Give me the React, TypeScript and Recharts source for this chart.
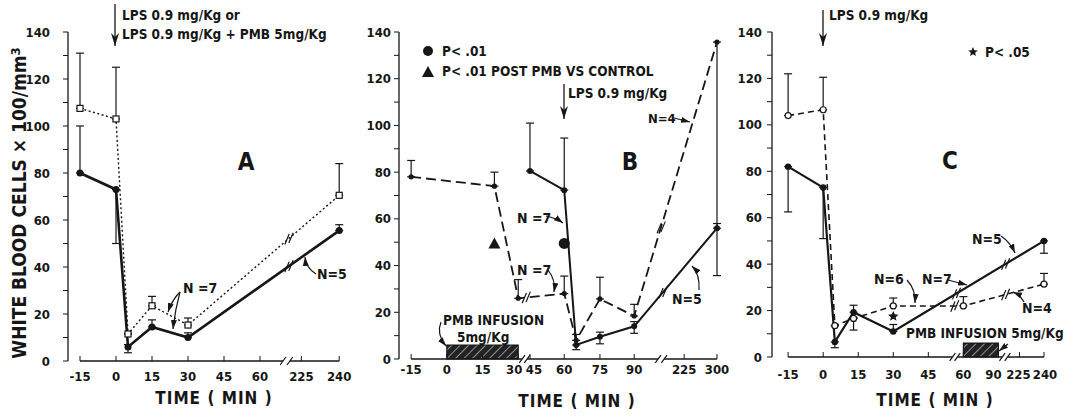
import React from 'react';
import { LineChart, Line, XAxis, YAxis, ErrorBar, ReferenceLine, ReferenceArea, ReferenceDot } from 'recharts';

const FONT = "'Liberation Sans Narrow', 'DejaVu Sans Condensed', 'Arial Narrow', sans-serif";
const INK = '#161616';

// y axis shared by all three panels
const yTicks = [0, 10, 20, 30, 40, 50, 60, 70, 80, 90, 100, 110, 120, 130, 140];

// ---- panel A : LPS vs LPS + PMB ----
const aTickTimes = [-15, 0, 15, 30, 45, 60, 225, 240];
const aTickPos = [0, 1, 2, 3, 4, 5, 6.15, 7.2];
const aTimes = [-15, 0, 5, 15, 30, 240];
const aLpsPmb = [107.5, 103, 11.5, 23.5, 15.3, 70.5];
const aLpsPmbErr = [[0, 23.5], [0, 22], [0, 0], [0, 4], [0, 3], [0, 13.5]];
const aLps = [80, 73, 6, 14.5, 10, 55.5];
const aLpsErr = [[0, 20], [23, 0], [2.5, 1], [0, 3], [0, 2], [0, 2.5]];

// ---- panel B : PMB infusion before LPS ----
const bTickTimes = [-15, 0, 15, 30, 45, 60, 75, 90, 225, 300];
const bTickPos = [0, 1, 2, 3, 3.33, 4.29, 5.29, 6.25, 7.65, 8.57];
const bPmbTimes = [-15, 20, 30, 60, 65, 75, 90, 300];
const bPmb = [78, 74, 26, 28, 8, 25.7, 18.4, 135.7];
const bPmbErr = [[0, 7], [0, 6], [0, 8], [0, 7.5], [0, 2.5], [0, 9.3], [0, 5], [100, 0]];
const bCtlTimes = [45, 60, 65, 75, 90, 300];
const bCtl = [80.5, 72.3, 6, 9.5, 14, 56];
const bCtlErr = [[0, 20.5], [0, 22.3], [2, 0], [3, 2], [3, 2], [0, 2]];
const bMarkTimes = [20, 60];
const bMarkValues = [49.5, 49.5];
const bInfusion = [0, 30];

// ---- panel C : PMB infusion after LPS ----
const cTickTimes = [-15, 0, 15, 30, 45, 60, 90, 225, 240];
const cTickPos = [0, 1, 2, 3, 4, 5, 6, 6.6, 7.3];
const cOpenTimes = [-15, 0, 5, 13, 30, 60, 240];
const cOpen = [104, 106.5, 13.5, 16.6, 22, 22, 31.4];
const cOpenErr = [[0, 18], [0, 14], [0, 0], [5, 0], [0, 3.4], [0, 4], [0, 4.6]];
const cSolidTimes = [-15, 0, 5, 13, 30, 240];
const cSolid = [82, 73, 6.5, 19.3, 11, 50];
const cSolidErr = [[19.5, 0], [22, 0], [2.5, 0], [0, 3], [0, 3], [5.3, 0]];
const cStarTime = 30;
const cStarValue = 17.5;
const cInfusion = [60, 90];

// time (min) -> position on the broken axis
function makeToPos(times: number[], pos: number[]) {
  return (t: number) => {
    for (let i = 0; i < times.length - 1; i++) {
      if (t <= times[i + 1]) {
        const f = (t - times[i]) / (times[i + 1] - times[i]);
        return pos[i] + f * (pos[i + 1] - pos[i]);
      }
    }
    return pos[pos.length - 1];
  };
}

type Row = { x: number; y: number; e: number[] };
function rows(times: number[], values: number[], errs: number[][], toPos: (t: number) => number): Row[] {
  return times.map((t, i) => ({ x: toPos(t), y: values[i], e: errs[i] }));
}

const yFmt = (v: number) => (v % 20 === 0 ? String(v) : '');

const tickStyle = { fill: INK, fontSize: 13, fontFamily: FONT, fontWeight: 'bold' };

// x tick labels, with a small nudge where the printed labels crowd together
const xTick = (pos: number[], times: number[], nudge: Record<number, number> = {}) => (p: any) => {
  const i = pos.findIndex((q) => Math.abs(q - p.payload.value) < 0.001);
  if (i < 0) return <g key={`t${p.index}`} />;
  return (
    <text key={`t${p.index}`} x={p.x + (nudge[times[i]] || 0)} y={p.y} dy="0.71em" textAnchor="middle" {...tickStyle}>
      {times[i]}
    </text>
  );
};

const filledDot = (r: number) => (p: any) => (
  <circle key={`f${p.index}`} cx={p.cx} cy={p.cy} r={r} fill={INK} />
);
const openCircle = (p: any) => (
  <circle key={`o${p.index}`} cx={p.cx} cy={p.cy} r={3} fill="#fff" stroke={INK} strokeWidth={1.2} />
);
const openSquare = (p: any) => (
  <rect key={`s${p.index}`} x={p.cx - 3} y={p.cy - 3} width={6} height={6} fill="#fff" stroke={INK} strokeWidth={1.2} />
);

const slash = (k: string, x: number, y: number, dx: number, dy: number) => (
  <ReferenceLine key={k} segment={[{ x: x - dx, y: y - dy }, { x: x + dx, y: y + dy }]} stroke={INK} strokeWidth={1.2} ifOverflow="visible" />
);

// broken x axis line, drawn as segments in data space
function axisLine(segs: number[][]) {
  const out: any[] = [];
  segs.forEach((s, i) => {
    out.push(
      <ReferenceLine key={`ax${i}`} segment={[{ x: s[0], y: 0 }, { x: s[1], y: 0 }]} stroke={INK} strokeWidth={1.3} ifOverflow="visible" />
    );
    if (i > 0) {
      out.push(slash(`br${i}a`, segs[i - 1][1], 0, 0.08, 1.7));
      out.push(slash(`br${i}b`, s[0], 0, 0.08, 1.7));
    }
  });
  return out;
}

// "//" break marks drawn across a series line at axis position p
function lineBreak(data: Row[], p: number, k: string) {
  let y = data[data.length - 1].y;
  for (let i = 0; i < data.length - 1; i++) {
    if (p >= data[i].x && p <= data[i + 1].x) {
      y = data[i].y + ((p - data[i].x) / (data[i + 1].x - data[i].x)) * (data[i + 1].y - data[i].y);
    }
  }
  return [slash(`${k}a`, p - 0.05, y - 0.3, 0.06, 2.2), slash(`${k}b`, p + 0.06, y + 0.3, 0.06, 2.2)];
}

const T = (x: number, y: number, s: string, size = 13.5, anchor: any = 'start', extra: any = {}) => (
  <text key={`${s}${x}${y}`} x={x} y={y} fontSize={size} fontFamily={FONT} fontWeight="bold" fill={INK} textAnchor={anchor} {...extra}>
    {s}
  </text>
);

const defs = (id: string) => (
  <defs>
    <marker id={`ah${id}`} markerWidth="10" markerHeight="8" refX="9" refY="4" orient="auto" markerUnits="userSpaceOnUse">
      <path d="M0,1 L9,4 L0,7 Z" fill={INK} />
    </marker>
    <marker id={`lh${id}`} markerWidth="8" markerHeight="14" refX="4" refY="13" orient="0" markerUnits="userSpaceOnUse">
      <path d="M0,0 L4,13 L8,0 L4,4 Z" fill={INK} />
    </marker>
    <pattern id={`hatch${id}`} width="6" height="6" patternUnits="userSpaceOnUse" patternTransform="rotate(45)">
      <rect width="6" height="6" fill="#222" />
      <line x1="0" y1="0" x2="0" y2="6" stroke="#ddd" strokeWidth="1.2" />
    </pattern>
  </defs>
);

const arrow = (id: string, d: string, k: string, w = 1.2) => (
  <path key={k} d={d} fill="none" stroke={INK} strokeWidth={w} markerEnd={`url(#ah${id})`} />
);
const lpsArrow = (id: string, x: number, y1: number, y2: number) => (
  <line key={`lps${x}`} x1={x} y1={y1} x2={x} y2={y2 - 12} stroke={INK} strokeWidth={1.3} markerEnd={`url(#lh${id})`} />
);

function PanelA() {
  const toPos = makeToPos(aTickTimes, aTickPos);
  const pmbRows = rows(aTimes, aLpsPmb, aLpsPmbErr, toPos);
  const lpsRows = rows(aTimes, aLps, aLpsErr, toPos);
  return (
    <LineChart width={360} height={418} margin={{ top: 32, right: 10, bottom: 27, left: 28 }}>
      {defs('A')}
      <XAxis type="number" dataKey="x" domain={[-1 / 3, 7.5]} ticks={aTickPos} interval={0} tick={xTick(aTickPos, aTickTimes)}
        axisLine={false} tickSize={-5} tickMargin={16} tickLine={{ stroke: INK }} height={30} />
      <YAxis type="number" domain={[0, 140]} ticks={yTicks} interval={0} tickFormatter={yFmt} width={40} tickSize={5} tickMargin={13}
        axisLine={{ stroke: INK, strokeWidth: 1.3 }} tickLine={{ stroke: INK }} tick={tickStyle} />
      {axisLine([[0, 5.64], [5.83, 7.2]])}
      <Line data={pmbRows} dataKey="y" stroke={INK} strokeWidth={1.4} strokeDasharray="2 2.5"
        dot={openSquare} isAnimationActive={false}>
        <ErrorBar dataKey="e" width={4} stroke={INK} strokeWidth={1.2} direction="y" />
      </Line>
      <Line data={lpsRows} dataKey="y" stroke={INK} strokeWidth={2.6}
        dot={filledDot(3.5)} isAnimationActive={false}>
        <ErrorBar dataKey="e" width={4} stroke={INK} strokeWidth={1.2} direction="y" />
      </Line>
      {lineBreak(pmbRows, 5.8, 'la1')}
      {lineBreak(lpsRows, 5.8, 'la2')}
      <text x={0} y={0} transform="translate(26,203) rotate(-90)" fontSize={19} fontFamily={FONT} fontWeight="bold" fill={INK} textAnchor="middle">
        WHITE  BLOOD  CELLS   × 100/mm<tspan dy={-6} fontSize={13}>3</tspan>
      </text>
      {lpsArrow('A', 115, 4, 58)}
      {T(122, 20, 'LPS  0.9 mg/Kg  or')}
      {T(122, 39, 'LPS  0.9 mg/Kg + PMB  5mg/Kg')}
      {T(246, 170, 'A', 24, 'middle')}
      {T(183, 293, 'N =7', 14)}
      {arrow('A', 'M180,292 Q172,300 168,312', 'a1')}
      {arrow('A', 'M180,292 Q175,310 173,329', 'a2')}
      {T(317, 279, 'N=5', 14)}
      {arrow('A', 'M316,274 Q306,268 305,257', 'a3')}
      {T(214, 404, 'TIME  ( MIN )', 17, 'middle', { letterSpacing: 1 })}
    </LineChart>
  );
}

function PanelB() {
  const toPos = makeToPos(bTickTimes, bTickPos);
  const off = 355;
  const pmbRows = rows(bPmbTimes, bPmb, bPmbErr, toPos);
  const ctlRows = rows(bCtlTimes, bCtl, bCtlErr, toPos);
  return (
    <LineChart width={378} height={418} margin={{ top: 32, right: 11, bottom: 29, left: 4 }}>
      {defs('B')}
      <XAxis type="number" dataKey="x" domain={[-0.34, 8.71]} ticks={bTickPos} interval={0} tick={xTick(bTickPos, bTickTimes, { 30: -4, 45: 4 })}
        axisLine={false} tickSize={-5} tickMargin={11} tickLine={{ stroke: INK }} height={30} />
      <YAxis type="number" domain={[0, 140]} ticks={yTicks} interval={0} tickFormatter={yFmt} width={40} tickSize={5} tickMargin={3}
        axisLine={{ stroke: INK, strokeWidth: 1.3 }} tickLine={{ stroke: INK }} tick={tickStyle} />
      {axisLine([[0, 3.11], [3.25, 6.92], [7.09, 8.57]])}
      <ReferenceArea x1={toPos(bInfusion[0])} x2={toPos(bInfusion[1])} y1={0} y2={6} fill="url(#hatchB)" fillOpacity={1} stroke={INK} strokeWidth={1.2} />
      <Line data={pmbRows} dataKey="y" stroke={INK} strokeWidth={1.8} strokeDasharray="10 5"
        dot={filledDot(2.6)} isAnimationActive={false}>
        <ErrorBar dataKey="e" width={4} stroke={INK} strokeWidth={1.2} direction="y" />
      </Line>
      <Line data={ctlRows} dataKey="y" stroke={INK} strokeWidth={2}
        dot={filledDot(3)} isAnimationActive={false}>
        <ErrorBar dataKey="e" width={4} stroke={INK} strokeWidth={1.2} direction="y" />
      </Line>
      {lineBreak(pmbRows, 3.22, 'lb1')}
      {lineBreak(pmbRows, 7.0, 'lb2')}
      {lineBreak(ctlRows, 7.05, 'lb3')}
      <ReferenceDot x={toPos(bMarkTimes[0])} y={bMarkValues[0]} ifOverflow="visible"
        shape={(p: any) => <path d={`M${p.cx - 6},${p.cy + 5} L${p.cx},${p.cy - 6} L${p.cx + 6},${p.cy + 5} Z`} fill={INK} />} />
      <ReferenceDot x={toPos(bMarkTimes[1])} y={bMarkValues[1]} r={5.5} fill={INK} stroke="none" ifOverflow="visible" />
      <g transform={`translate(${-off},0)`}>
        <circle cx={428} cy={51} r={5} fill={INK} />
        {T(442, 56, 'P< .01')}
        <path d="M422,77 L428,66 L434,77 Z" fill={INK} />
        {T(442, 76, 'P< .01 POST  PMB VS CONTROL')}
        {lpsArrow('B', 564, 84, 131)}
        {T(568, 98, 'LPS  0.9 mg/Kg')}
        {T(630, 170, 'B', 24, 'middle')}
        {T(648, 123, 'N=4', 13)}
        {arrow('B', 'M674,118 L690,122', 'b1')}
        {T(517, 223, 'N =7', 14)}
        {arrow('B', 'M546,216 Q556,218 563,223', 'b2')}
        {T(517, 275, 'N =7', 14)}
        {arrow('B', 'M548,270 Q556,280 554,292', 'b3')}
        {T(672, 304, 'N=5', 14)}
        {arrow('B', 'M699,290 Q700,274 692,266', 'b4')}
        {T(443, 325, 'PMB INFUSION', 13.5)}
        {T(457, 342, '5mg/Kg', 13.5)}
        {arrow('B', 'M441,322 Q436,334 446,346', 'b5')}
        {T(577, 407, 'TIME  ( MIN )', 17, 'middle', { letterSpacing: 1 })}
      </g>
    </LineChart>
  );
}

function PanelC() {
  const toPos = makeToPos(cTickTimes, cTickPos);
  const off = 725;
  const openRows = rows(cOpenTimes, cOpen, cOpenErr, toPos);
  const solidRows = rows(cSolidTimes, cSolid, cSolidErr, toPos);
  const star = (cx: number, cy: number, r: number) => {
    const pts: string[] = [];
    for (let i = 0; i < 10; i++) {
      const a = -Math.PI / 2 + (i * Math.PI) / 5;
      const rr = i % 2 === 0 ? r : r * 0.45;
      pts.push(`${cx + rr * Math.cos(a)},${cy + rr * Math.sin(a)}`);
    }
    return <polygon points={pts.join(' ')} fill={INK} />;
  };
  return (
    <LineChart width={344} height={418} margin={{ top: 32, right: 18, bottom: 31, left: 7 }}>
      {defs('C')}
      <XAxis type="number" dataKey="x" domain={[-0.46, 7.5]} ticks={cTickPos} interval={0} tick={xTick(cTickPos, cTickTimes, { 90: -5, 225: -1, 240: 1 })}
        axisLine={false} tickSize={-5} tickMargin={18} tickLine={{ stroke: INK }} height={30} />
      <YAxis type="number" domain={[0, 140]} ticks={yTicks} interval={0} tickFormatter={yFmt} width={40} tickSize={5} tickMargin={5}
        axisLine={{ stroke: INK, strokeWidth: 1.3 }} tickLine={{ stroke: INK }} tick={tickStyle} />
      {axisLine([[0, 4.69], [4.83, 6.11], [6.26, 7.3]])}
      <ReferenceArea x1={toPos(cInfusion[0])} x2={toPos(cInfusion[1])} y1={0} y2={6} fill="url(#hatchC)" fillOpacity={1} stroke={INK} strokeWidth={1.2} />
      <Line data={openRows} dataKey="y" stroke={INK} strokeWidth={1.6} strokeDasharray="6 4"
        dot={openCircle} isAnimationActive={false}>
        <ErrorBar dataKey="e" width={4} stroke={INK} strokeWidth={1.2} direction="y" />
      </Line>
      <Line data={solidRows} dataKey="y" stroke={INK} strokeWidth={2.2}
        dot={filledDot(3.2)} isAnimationActive={false}>
        <ErrorBar dataKey="e" width={4} stroke={INK} strokeWidth={1.2} direction="y" />
      </Line>
      {lineBreak(openRows, 4.75, 'lc1')}
      {lineBreak(solidRows, 4.8, 'lc2')}
      {lineBreak(openRows, 6.2, 'lc3')}
      {lineBreak(solidRows, 6.2, 'lc4')}
      <ReferenceDot x={toPos(cStarTime)} y={cStarValue} ifOverflow="visible" shape={(p: any) => star(p.cx, p.cy, 5.5)} />
      <g transform={`translate(${-off},0)`}>
        {lpsArrow('C', 823, 10, 58)}
        {T(829, 20, 'LPS  0.9 mg/Kg')}
        {star(973, 52, 5)}
        {T(985, 57, 'P< .05')}
        {T(950, 169, 'C', 24, 'middle')}
        {T(972, 244, 'N=5', 14)}
        {arrow('C', 'M1001,236 Q1010,242 1015,253', 'c1')}
        {T(874, 284, 'N=6', 14)}
        {arrow('C', 'M907,280 Q916,290 915,303', 'c2')}
        {T(922, 284, 'N=7', 14)}
        {arrow('C', 'M948,280 L967,285', 'c3')}
        {T(1022, 313, 'N=4', 14)}
        {arrow('C', 'M1024,302 Q1020,295 1013,292', 'c4')}
        {T(906, 338, 'PMB INFUSION 5mg/Kg', 13.5)}
        {arrow('C', 'M1008,344 L999,351', 'c5')}
        {T(935, 406, 'TIME  ( MIN )', 17, 'middle', { letterSpacing: 1 })}
      </g>
    </LineChart>
  );
}

export default function App() {
  return (
    <div style={{ position: 'absolute', left: 0, top: 0, width: 1069, height: 418, background: '#fff', overflow: 'hidden' }}>
      <div style={{ position: 'absolute', left: 0, top: 0 }}>
        <PanelA />
      </div>
      <div style={{ position: 'absolute', left: 355, top: 0 }}>
        <PanelB />
      </div>
      <div style={{ position: 'absolute', left: 725, top: 0 }}>
        <PanelC />
      </div>
    </div>
  );
}
